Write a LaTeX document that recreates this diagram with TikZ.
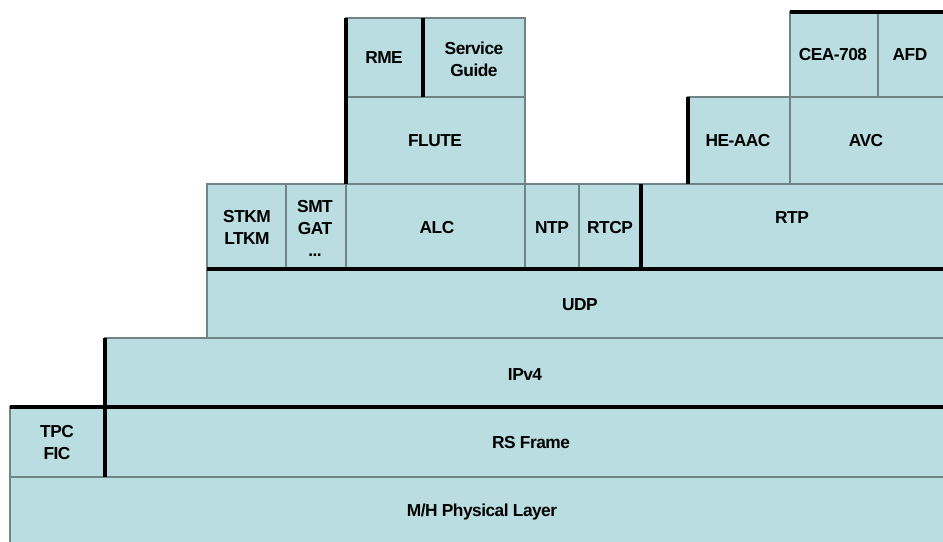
\documentclass[tikz,border=0pt]{standalone}
\usepackage{fontspec}
\setmainfont{Liberation Sans}[LetterSpace=-3]
\definecolor{layerfill}{RGB}{185,221,224}
\definecolor{layerline}{RGB}{112,132,134}
\tikzset{
  layerbox/.style={fill=layerfill, draw=layerline, line width=0.9pt},
  thickline/.style={draw=black, line width=2.3pt},
  lbl/.style={font=\bfseries\fontsize{13}{16.5}\selectfont, align=center, inner sep=0pt, text=black}
}
\begin{document}
\begin{tikzpicture}[x=0.75pt,y=-0.75pt]
\useasboundingbox (0,0) rectangle (943,542);
\clip (0,0) rectangle (943,542);
% boxes
\draw[layerbox] (10,477) rectangle (950,550);
\draw[layerbox] (10,407) rectangle (105,477);
\draw[layerbox] (105,407) rectangle (950,477);
\draw[layerbox] (105,338) rectangle (950,407);
\draw[layerbox] (207,269) rectangle (950,338);
\draw[layerbox] (207,184) rectangle (286,269);
\draw[layerbox] (286,184) rectangle (346,269);
\draw[layerbox] (346,184) rectangle (525,269);
\draw[layerbox] (525,184) rectangle (579,269);
\draw[layerbox] (579,184) rectangle (641,269);
\draw[layerbox] (641,184) rectangle (950,269);
\draw[layerbox] (346,97) rectangle (525,184);
\draw[layerbox] (346,18) rectangle (423,97);
\draw[layerbox] (423,18) rectangle (525,97);
\draw[layerbox] (688,97) rectangle (790,184);
\draw[layerbox] (790,97) rectangle (950,184);
\draw[layerbox] (790,12) rectangle (878,97);
\draw[layerbox] (878,12) rectangle (950,97);
% thick lines
\coordinate (t1a) at (790,12);  \coordinate (t1b) at (950,12);
\coordinate (t2a) at (346,18);  \coordinate (t2b) at (346,184);
\coordinate (t3a) at (423,18);  \coordinate (t3b) at (423,97);
\coordinate (t4a) at (688,97);  \coordinate (t4b) at (688,184);
\coordinate (t5a) at (641,184); \coordinate (t5b) at (641,269);
\coordinate (t6a) at (207,269); \coordinate (t6b) at (950,269);
\coordinate (t7a) at (105,338); \coordinate (t7b) at (105,477);
\coordinate (t8a) at (10,407);  \coordinate (t8b) at (950,407);
\draw[thickline] (t1a) -- (t1b);
\draw[thickline] (t2a) -- (t2b);
\draw[thickline] (t3a) -- (t3b);
\draw[thickline] (t4a) -- (t4b);
\draw[thickline] (t5a) -- (t5b);
\draw[thickline] (t6a) -- (t6b);
\draw[thickline] (t7a) -- (t7b);
\draw[thickline] (t8a) -- (t8b);
% labels
\node[lbl] (rme) at (384,58) {RME};
\node[lbl] (sg) at (474,59) {Service\\Guide};
\node[lbl] (flute) at (435,141) {FLUTE};
\node[lbl] (cea) at (833,55) {CEA-708};
\node[lbl] (afd) at (910,55) {AFD};
\node[lbl] (heaac) at (738,141) {HE-AAC};
\node[lbl] (avc) at (866,141) {AVC};
\node[lbl] (stkm) at (247,227) {STKM\\LTKM};
\node[lbl] (smt) at (315,228) {SMT\\GAT\\...};
\node[lbl] (alc) at (437,228) {ALC};
\node[lbl] (ntp) at (552,228) {NTP};
\node[lbl] (rtcp) at (610,228) {RTCP};
\node[lbl] (rtp) at (792,218) {RTP};
\node[lbl] (udp) at (580,305) {UDP};
\node[lbl] (ipv4) at (525,375) {IPv4};
\node[lbl] (tpc) at (57,443) {TPC\\FIC};
\node[lbl] (rsf) at (531,443) {RS Frame};
\node[lbl] (mh) at (482,512) {M/H Physical Layer};
\end{tikzpicture}
\end{document}
